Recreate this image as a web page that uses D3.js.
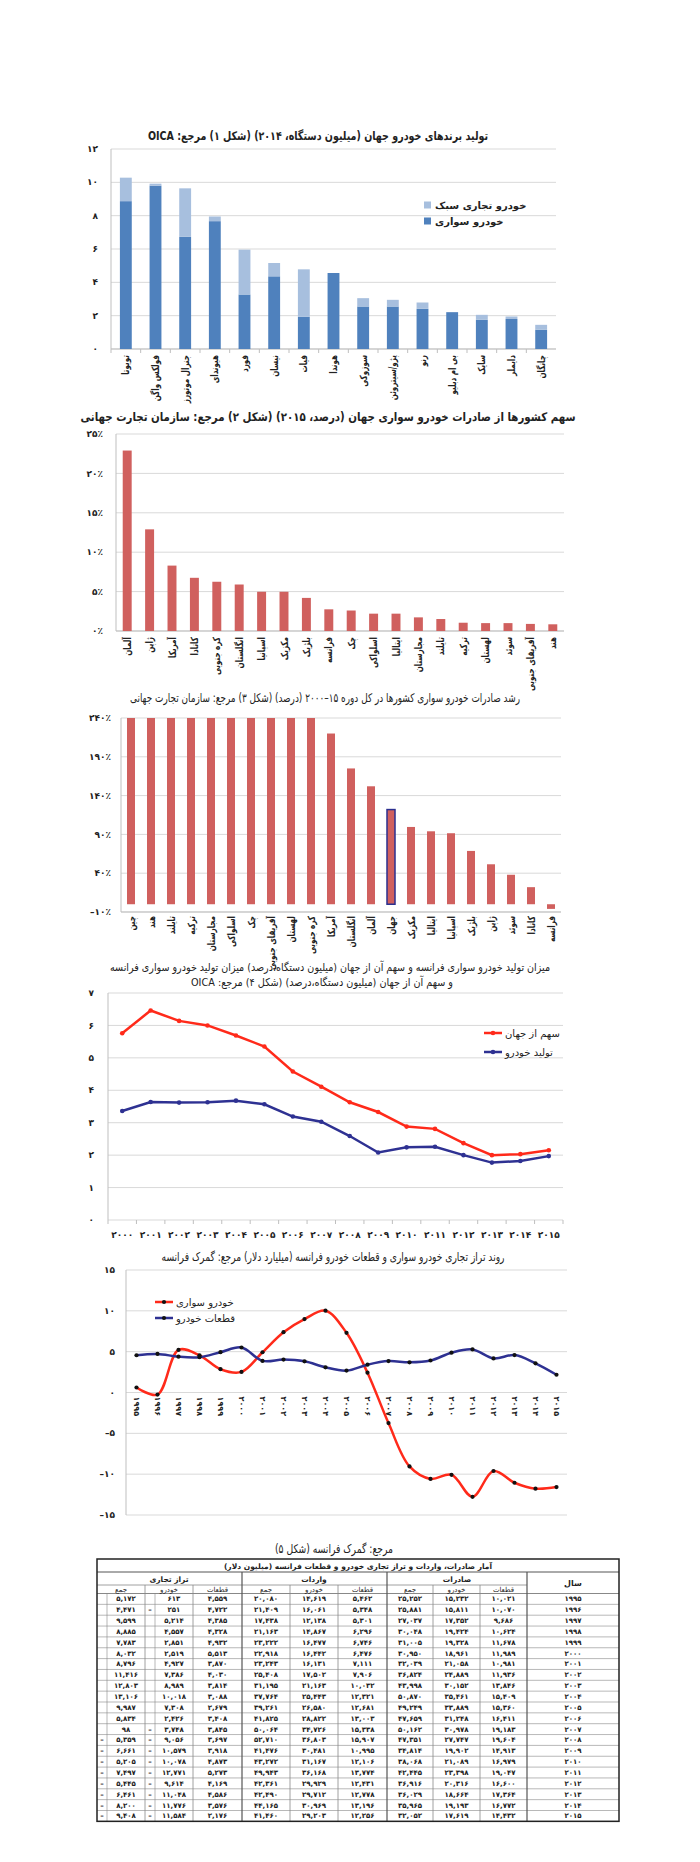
<!DOCTYPE html>
<html>
<head>
<meta charset="utf-8">
<script src="https://cdn.jsdelivr.net/npm/d3@7"></script>
<style>
body { margin: 0; background: #fff; }
svg text { font-family: "DejaVu Sans", sans-serif; fill: #222; }
</style>
</head>
<body>
<svg id="chart" width="700" height="1862"></svg>
<script>
// ---- chart 1: brands production 2014 (million units)
const brands = ["تویوتا","فولکس واگن","جنرال موتورز","هیوندای","فورد","نیسان","فیات","هوندا","سوزوکی","پژو/سیتروئن","رنو","بی ام دبلیو","سایک","دایملر","چانگان"];
const brandCars = [8.87, 9.8, 6.73, 7.67, 3.27, 4.36, 1.93, 4.56, 2.55, 2.55, 2.41, 2.21, 1.75, 1.8, 1.15];
const brandLcv  = [1.41, 0.12, 2.91, 0.28, 2.69, 0.8, 2.85, 0, 0.5, 0.4, 0.38, 0, 0.3, 0.15, 0.3];

// ---- chart 2: share of world car exports 2015 (%)
const shareCountries = ["آلمان","ژاپن","آمریکا","کانادا","کره جنوبی","انگلستان","اسپانیا","مکزیک","بلژیک","فرانسه","چک","اسلواکی","ایتالیا","مجارستان","تایلند","ترکیه","لهستان","سوئد","آفریقای جنوبی","هند"];
const shareValues = [22.9, 12.9, 8.3, 6.75, 6.25, 5.9, 4.98, 4.98, 4.2, 2.75, 2.6, 2.2, 2.2, 1.73, 1.52, 1.05, 1.0, 1.0, 0.9, 0.85];

// ---- chart 3: export growth 2000-15 (%)
const growthCountries = ["چین","هند","تایلند","ترکیه","مجارستان","اسلواکی","چک","آفریقای جنوبی","لهستان","کره جنوبی","آمریکا","انگلستان","آلمان","جهان","مکزیک","ایتالیا","اسپانیا","بلژیک","ژاپن","سوئد","کانادا","فرانسه"];
const growthValues = [240, 240, 240, 240, 240, 240, 240, 240, 240, 240, 220, 175, 152, 122, 99.6, 94, 91.5, 68.7, 51.5, 38, 22, -6];

// ---- chart 4: France car production and world share
const prodYears = ["2000","2001","2002","2003","2004","2005","2006","2007","2008","2009","2010","2011","2012","2013","2014","2015"];
const worldShare = [5.76, 6.46, 6.14, 6.0, 5.69, 5.35, 4.58, 4.11, 3.63, 3.33, 2.88, 2.81, 2.37, 2.0, 2.03, 2.15];
const production = [3.36, 3.64, 3.62, 3.63, 3.68, 3.57, 3.19, 3.03, 2.59, 2.08, 2.24, 2.26, 2.0, 1.77, 1.82, 1.97];

// ---- chart 5 + table: France trade (million dollars)
const tradeYears = ["1995","1996","1997","1998","1999","2000","2001","2002","2003","2004","2005","2006","2007","2008","2009","2010","2011","2012","2013","2014","2015"];
const exportParts = [10021,10070,9686,10624,11678,11989,10981,11936,13846,15409,15360,16411,19183,19604,14913,16979,19047,16600,17364,16772,14432];
const exportCars  = [15232,15811,17352,19424,19328,18961,21058,24889,30152,35461,33889,31248,30978,27747,19902,21089,23398,20316,18664,19193,17619];
const exportTotal = [25252,25881,27037,30048,31005,30950,32039,36824,43998,50870,49249,47659,50162,47351,34814,38068,42445,36916,36029,35965,32052];
const importParts = [5462,5348,5301,6296,6746,6476,7111,7906,10032,12321,12681,13003,15338,15907,10995,12106,13774,12431,12778,13196,12256];
const importCars  = [14619,16061,12138,14867,16477,16442,16131,17502,21163,25443,26580,28822,34726,36803,30481,31167,36168,29929,29712,30969,29203];
const importTotal = [20080,21409,17438,21163,23222,22918,23243,25408,31195,37764,39261,41825,50064,52710,41476,43272,49943,42361,42490,44165,41460];
const balanceParts = [4559,4722,4385,4328,4932,5513,3870,4030,3814,3088,2679,3408,3845,3697,3918,4873,5273,4169,4586,3576,2176];
const balanceCars  = [613,-251,5214,4557,2851,2519,4927,7386,8989,10018,7308,2426,-3748,-9056,-10579,-10078,-12771,-9614,-11048,-11776,-11584];
const balanceTotal = [5172,4471,9599,8885,7783,8032,8796,11416,12803,13106,9987,5834,98,-5359,-6661,-5205,-7497,-5445,-6461,-8200,-9408];

// persian digits
const fa = s => String(s).replace(/\d/g, d => "۰۱۲۳۴۵۶۷۸۹"[d]);
const faNum = n => fa(d3.format(",")(Math.abs(n)));

const svg = d3.select("#chart");
const gridColor = "#d9d9d9";

function title(txt, cx, y, len, bold, size) {
    svg.append("text")
        .attr("x", cx).attr("y", y)
        .attr("direction", "rtl")
        .attr("text-anchor", "middle")
        .attr("font-size", size || 12)
        .attr("font-weight", bold ? "bold" : "normal")
        .attr("textLength", len)
        .attr("lengthAdjust", "spacingAndGlyphs")
        .text(txt);
}

function yGrid(y, ticks, x0, x1, labelX, fmt) {
    const g = svg.append("g");
    g.selectAll("line").data(ticks).join("line")
        .attr("x1", x0).attr("x2", x1)
        .attr("y1", d => y(d)).attr("y2", d => y(d))
        .attr("stroke", gridColor).attr("stroke-width", 1);
    g.selectAll("text").data(ticks).join("text")
        .attr("x", labelX).attr("y", d => y(d))
        .attr("dy", "0.35em")
        .attr("text-anchor", "end")
        .attr("font-size", 9).attr("font-weight", "bold")
        .text(fmt);
    // vertical axis line
    g.append("line")
        .attr("x1", x0).attr("x2", x0)
        .attr("y1", y.range()[0]).attr("y2", y.range()[1])
        .attr("stroke", "#bfbfbf");
}

function catLabels(x, cats, yTop, size) {
    svg.append("g").selectAll("text").data(cats).join("text")
        .attr("transform", d => `translate(${x(d) + x.bandwidth() / 2},${yTop}) rotate(-90) scale(0.72,1)`)
        .attr("text-anchor", "end")
        .attr("dy", "0.35em")
        .attr("font-size", size)
        .attr("font-weight", "bold")
        .text(d => d);
}

// ================= chart 1 =================
title("تولید برندهای خودرو جهان  (میلیون دستگاه، ۲۰۱۴) (شکل ۱) مرجع: OICA", 318, 140, 340, true);
{
    const x = d3.scaleBand().domain(brands).range([111, 556]).paddingInner(0.6).paddingOuter(0.3);
    const y = d3.scaleLinear().domain([0, 12]).range([349, 149]);
    yGrid(y, d3.range(0, 13, 2), 111, 556, 98, d => fa(d));
    svg.append("line").attr("x1", 111).attr("x2", 556).attr("y1", y(0)).attr("y2", y(0)).attr("stroke", "#bfbfbf");
    const step = x.step();
    svg.append("g").selectAll("line").data(brands).join("line")
        .attr("x1", d => x(d) - (step - x.bandwidth()) / 2).attr("x2", d => x(d) - (step - x.bandwidth()) / 2)
        .attr("y1", y(0)).attr("y2", y(0) + 4).attr("stroke", "#bfbfbf");
    const bars = svg.append("g");
    bars.selectAll(".car").data(brands).join("rect")
        .attr("x", d => x(d)).attr("width", x.bandwidth())
        .attr("y", (d, i) => y(brandCars[i]))
        .attr("height", (d, i) => y(0) - y(brandCars[i]))
        .attr("fill", "#4f81bd");
    bars.selectAll(".lcv").data(brands).join("rect")
        .attr("x", d => x(d)).attr("width", x.bandwidth())
        .attr("y", (d, i) => y(brandCars[i] + brandLcv[i]))
        .attr("height", (d, i) => y(brandCars[i]) - y(brandCars[i] + brandLcv[i]))
        .attr("fill", "#a7bfde");
    catLabels(x, brands, 355, 10);
    const lg = svg.append("g");
    [["خودرو تجاری سبک", "#a7bfde", 205], ["خودرو سواری", "#4f81bd", 221]].forEach(([t, c, yy]) => {
        lg.append("rect").attr("x", 424).attr("y", yy - 3.5).attr("width", 7).attr("height", 7).attr("fill", c);
        lg.append("text").attr("x", 435).attr("y", yy).attr("dy", "0.35em").attr("font-size", 10).attr("font-weight", "bold").text(t);
    });
}

// ================= chart 2 =================
title("سهم کشورها از صادرات خودرو سواری جهان  (درصد، ۲۰۱۵) (شکل ۲) مرجع: سازمان تجارت جهانی", 328, 421, 495, true);
{
    const x = d3.scaleBand().domain(shareCountries).range([116, 564]).paddingInner(0.6).paddingOuter(0.3);
    const y = d3.scaleLinear().domain([0, 25]).range([631, 434]);
    yGrid(y, d3.range(0, 26, 5), 116, 564, 103, d => fa(d) + "٪");
    svg.append("line").attr("x1", 116).attr("x2", 564).attr("y1", y(0)).attr("y2", y(0)).attr("stroke", "#bfbfbf");
    svg.append("g").selectAll("rect").data(shareCountries).join("rect")
        .attr("x", d => x(d)).attr("width", x.bandwidth())
        .attr("y", (d, i) => y(shareValues[i]))
        .attr("height", (d, i) => y(0) - y(shareValues[i]))
        .attr("fill", "#d0605e");
    catLabels(x, shareCountries, 637, 10);
}

// ================= chart 3 =================
title("رشد صادرات خودرو سواری کشورها در کل دوره ۱۵–۲۰۰۰ (درصد) (شکل ۳) مرجع: سازمان تجارت جهانی", 325, 702, 390, false);
{
    const x = d3.scaleBand().domain(growthCountries).range([121, 561]).paddingInner(0.6).paddingOuter(0.3);
    const y = d3.scaleLinear().domain([-10, 240]).range([912, 718]);
    yGrid(y, d3.range(-10, 241, 50), 121, 561, 111, d => (d < 0 ? "–" : "") + fa(Math.abs(d)) + "٪");
    svg.append("line").attr("x1", 121).attr("x2", 561).attr("y1", y(-10)).attr("y2", y(-10)).attr("stroke", "#bfbfbf");
    svg.append("g").selectAll("rect").data(growthCountries).join("rect")
        .attr("x", d => x(d)).attr("width", x.bandwidth())
        .attr("y", (d, i) => y(Math.max(0, growthValues[i])))
        .attr("height", (d, i) => Math.abs(y(0) - y(growthValues[i])))
        .attr("fill", "#d0605e")
        .attr("stroke", d => d === "جهان" ? "#2b2f8f" : "none")
        .attr("stroke-width", 1.5);
    catLabels(x, growthCountries, 916, 10);
}

// ================= chart 4 =================
title("میزان تولید خودرو سواری فرانسه و سهم آن از جهان  (میلیون دستگاه،درصد) میزان تولید خودرو سواری فرانسه", 330, 971, 440, false, 11);
title("و سهم آن از جهان  (میلیون دستگاه،درصد) (شکل ۴) مرجع: OICA", 322, 986, 262, false, 11);
{
    const x = d3.scaleBand().domain(prodYears).range([108, 563]);
    const y = d3.scaleLinear().domain([0, 7]).range([1220, 993]);
    yGrid(y, d3.range(0, 8), 108, 563, 94, d => fa(d));
    const step = x.step();
    svg.append("g").selectAll("line").data(prodYears.concat(["end"])).join("line")
        .attr("x1", (d, i) => 108 + i * step).attr("x2", (d, i) => 108 + i * step)
        .attr("y1", y(0)).attr("y2", y(0) + 4).attr("stroke", "#bfbfbf");
    svg.append("g").selectAll("text").data(prodYears).join("text")
        .attr("x", d => x(d) + step / 2).attr("y", 1238)
        .attr("text-anchor", "middle").attr("font-size", 9).attr("font-weight", "bold")
        .text(d => fa(d));
    const series = [[worldShare, "#ff2a1a"], [production, "#2e3192"]];
    series.forEach(([vals, col]) => {
        const line = d3.line().x((d, i) => x(prodYears[i]) + step / 2).y(d => y(d));
        svg.append("path").datum(vals).attr("d", line).attr("fill", "none").attr("stroke", col).attr("stroke-width", 2.5);
        svg.append("g").selectAll("circle").data(vals).join("circle")
            .attr("cx", (d, i) => x(prodYears[i]) + step / 2).attr("cy", d => y(d)).attr("r", 2.3).attr("fill", col);
    });
    [["سهم از جهان", "#ff2a1a", 1033], ["تولید خودرو", "#2e3192", 1052]].forEach(([t, c, yy]) => {
        svg.append("line").attr("x1", 484).attr("x2", 502).attr("y1", yy).attr("y2", yy).attr("stroke", c).attr("stroke-width", 2.5);
        svg.append("circle").attr("cx", 493).attr("cy", yy).attr("r", 2.3).attr("fill", c);
        svg.append("text").attr("x", 505).attr("y", yy).attr("dy", "0.35em").attr("font-size", 10).text(t);
    });
}

// ================= chart 5 =================
title("روند تراز تجاری خودرو سواری و قطعات خودرو فرانسه (میلیارد دلار) مرجع: گمرک فرانسه", 333, 1261, 343, false);
{
    const x = d3.scaleBand().domain(tradeYears).range([126, 567]);
    const y = d3.scaleLinear().domain([-15, 15]).range([1515, 1270]);
    yGrid(y, d3.range(-15, 16, 5), 126, 567, 115, d => (d < 0 ? "–" : "") + fa(Math.abs(d)));
    const step = x.step();
    svg.append("g").selectAll("text").data(tradeYears).join("text")
        .attr("transform", d => `translate(${x(d) + step / 2},${y(0) + 4}) rotate(90)`)
        .attr("text-anchor", "start").attr("dy", "0.35em")
        .attr("font-size", 8).attr("font-weight", "bold")
        .text(d => fa(d));
    const series = [[balanceCars, "#ff2a1a"], [balanceParts, "#2e3192"]];
    series.forEach(([vals, col]) => {
        const line = d3.line().curve(d3.curveCatmullRom.alpha(0.5))
            .x((d, i) => x(tradeYears[i]) + step / 2).y(d => y(d / 1000));
        svg.append("path").datum(vals).attr("d", line).attr("fill", "none").attr("stroke", col).attr("stroke-width", 2.5);
    });
    series.forEach(([vals]) => {
        svg.append("g").selectAll("circle").data(vals).join("circle")
            .attr("cx", (d, i) => x(tradeYears[i]) + step / 2).attr("cy", d => y(d / 1000)).attr("r", 2.1).attr("fill", "#111");
    });
    [["خودرو سواری", "#ff2a1a", 1302], ["قطعات خودرو", "#2e3192", 1318]].forEach(([t, c, yy]) => {
        svg.append("line").attr("x1", 155).attr("x2", 173).attr("y1", yy).attr("y2", yy).attr("stroke", c).attr("stroke-width", 2.5);
        svg.append("circle").attr("cx", 164).attr("cy", yy).attr("r", 2.1).attr("fill", "#111");
        svg.append("text").attr("x", 176).attr("y", yy).attr("dy", "0.35em").attr("font-size", 10).text(t);
    });
}

// ================= table =================
title("مرجع: گمرک فرانسه (شکل ۵)", 334, 1553, 118, false);
{
    const colX = [97, 145, 193, 242, 290, 338, 387, 433, 480, 527, 619];
    const left = colX[0], right = colX[10];
    const rowTop = 1593.5, rowH = 10.85;
    const g = svg.append("g");
    const tTop = 1559, tBot = rowTop + rowH * tradeYears.length;
    const hLine = (x1, x2, yy, w, c) => g.append("line").attr("x1", x1).attr("x2", x2).attr("y1", yy).attr("y2", yy).attr("stroke", c || "#888").attr("stroke-width", w || 0.8);
    const vLine = (xx, y1, y2, w, c) => g.append("line").attr("x1", xx).attr("x2", xx).attr("y1", y1).attr("y2", y2).attr("stroke", c || "#888").attr("stroke-width", w || 0.8);
    const txt = (s, xx, yy, size, bold) => g.append("text").attr("x", xx).attr("y", yy).attr("dy", "0.35em").attr("direction", "rtl").attr("text-anchor", "middle").attr("font-size", size).attr("font-weight", bold ? "bold" : "normal").text(s);
    const num = (s, xx, yy) => g.append("text").attr("x", xx).attr("y", yy).attr("dy", "0.35em").attr("text-anchor", "middle").attr("font-size", 7).attr("font-weight", "bold").text(s);

    // header grid
    hLine(left, right, 1572, 1, "#555");
    hLine(left, colX[9], 1585);
    for (let i = 0; i <= tradeYears.length; i++) hLine(left, right, rowTop + i * rowH, i === 0 ? 1 : 0.6);
    [242, 387].forEach(xx => vLine(xx, 1572, tBot, 1.2, "#555"));
    colX.slice(1, 9).forEach(xx => { if (xx !== 242 && xx !== 387) vLine(xx, 1585, tBot); });
    vLine(colX[9], 1572, tBot, 1.2, "#555");
    vLine(107, rowTop, tBot, 0.6); vLine(155, rowTop, tBot, 0.6);
    g.append("rect").attr("x", left).attr("y", tTop).attr("width", right - left).attr("height", tBot - tTop)
        .attr("fill", "none").attr("stroke", "#222").attr("stroke-width", 1.5);

    txt("آمار صادرات، واردات و تراز تجاری خودرو و قطعات فرانسه (میلیون دلار)", 358, 1566, 7.5, true);
    txt("تراز تجاری", 169, 1579, 7.5, true);
    txt("واردات", 314, 1579, 7.5, true);
    txt("صادرات", 457, 1579, 7.5, true);
    txt("سال", (colX[9] + right) / 2, 1583, 8, true);
    const sub = ["جمع", "خودرو", "قطعات"];
    for (let i = 0; i < 9; i++) txt(sub[i % 3], (colX[i] + colX[i + 1]) / 2, 1590, 7, false);

    const cols = [balanceTotal, balanceCars, balanceParts, importTotal, importCars, importParts, exportTotal, exportCars, exportParts];
    tradeYears.forEach((yr, r) => {
        const cy = rowTop + rowH * (r + 0.5);
        cols.forEach((arr, c) => {
            let cx = (colX[c] + colX[c + 1]) / 2;
            if (c === 0) cx = 126;
            if (c === 1) cx = 174;
            num(faNum(arr[r]), cx, cy);
        });
        if (balanceTotal[r] < 0) num("–", 102, cy);
        if (balanceCars[r] < 0) num("–", 150, cy);
        num(fa(yr), (colX[9] + right) / 2, cy);
    });
}
</script>
</body>
</html>
